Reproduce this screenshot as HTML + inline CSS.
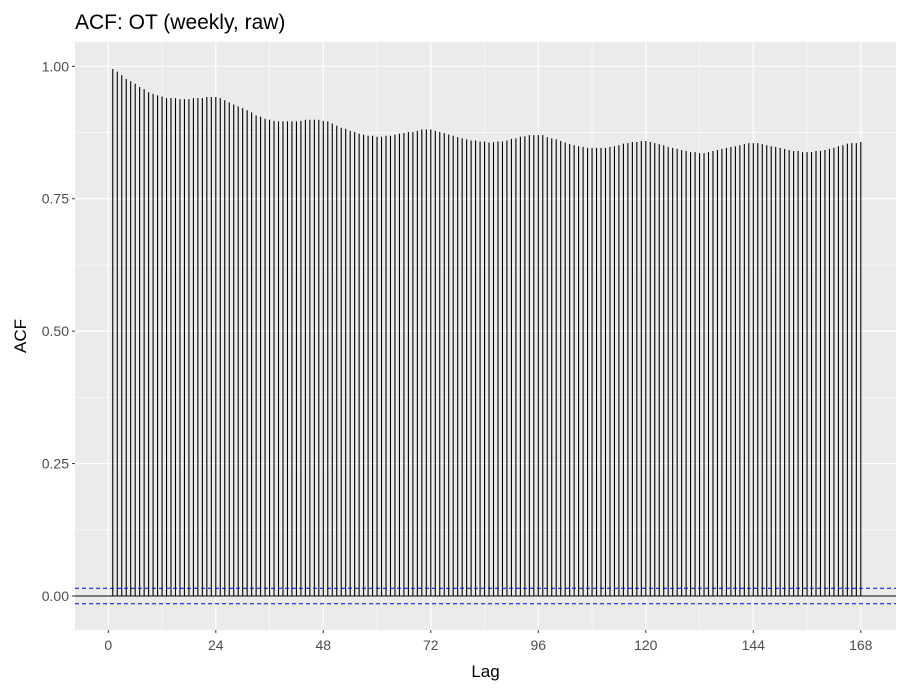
<!DOCTYPE html>
<html><head><meta charset="utf-8"><style>
body{margin:0;background:#fff;font-family:"Liberation Sans",Arial,sans-serif}
</style></head><body>
<svg id="chart" width="908" height="691" xmlns="http://www.w3.org/2000/svg"></svg>
<script>
const lags = Array.from({length:168},(_,i)=>i+1);
const acfValues = [0.995,0.990,0.983,0.976,0.972,0.967,0.961,0.957,0.951,0.948,0.945,0.943,0.940,0.940,0.940,0.938,0.938,0.938,0.940,0.940,0.940,0.942,0.942,0.942,0.940,0.936,0.932,0.928,0.924,0.921,0.917,0.913,0.907,0.905,0.901,0.899,0.897,0.896,0.896,0.896,0.896,0.896,0.897,0.899,0.899,0.899,0.899,0.897,0.896,0.892,0.888,0.884,0.882,0.878,0.876,0.873,0.871,0.869,0.869,0.867,0.867,0.869,0.869,0.871,0.873,0.874,0.876,0.876,0.878,0.881,0.881,0.881,0.878,0.876,0.874,0.871,0.869,0.866,0.864,0.862,0.860,0.860,0.858,0.858,0.856,0.857,0.858,0.858,0.860,0.863,0.864,0.867,0.868,0.870,0.870,0.870,0.870,0.866,0.864,0.862,0.859,0.856,0.853,0.851,0.849,0.848,0.846,0.846,0.846,0.846,0.846,0.848,0.849,0.851,0.854,0.855,0.857,0.857,0.859,0.859,0.857,0.855,0.853,0.851,0.848,0.846,0.844,0.842,0.840,0.838,0.838,0.836,0.836,0.838,0.840,0.842,0.844,0.846,0.848,0.849,0.851,0.853,0.855,0.855,0.855,0.853,0.851,0.849,0.848,0.846,0.844,0.842,0.840,0.840,0.838,0.838,0.838,0.840,0.840,0.842,0.844,0.846,0.849,0.851,0.854,0.855,0.855,0.857];
const ciBound = 0.0147;
const xTicks = [0,24,48,72,96,120,144,168];
const xMinor = [12,36,60,84,108,132,156];
const yTicks = [0,0.25,0.5,0.75,1.0];
const yTickLabels = ["0.00","0.25","0.50","0.75","1.00"];
const yMinor = [0.125,0.375,0.625,0.875];

const P={l:75,r:896,t:42,b:630};
const X=v=>108.3+v*(752.5/168);
const Y=v=>596-v*529.7;
const svg=document.getElementById('chart');
const NS='http://www.w3.org/2000/svg';
function el(tag,attrs,parent){const e=document.createElementNS(NS,tag);for(const k in attrs)e.setAttribute(k,attrs[k]);(parent||svg).appendChild(e);return e;}

const bg=el('rect',{x:P.l,y:P.t,width:P.r-P.l,height:P.b-P.t,fill:'#ebebeb'});


const grid=el('g',{});


yMinor.forEach(v=>el('line',{x1:P.l,x2:P.r,y1:Y(v),y2:Y(v),stroke:'#fff','stroke-width':0.6},grid));
xMinor.forEach(v=>el('line',{x1:X(v),x2:X(v),y1:P.t,y2:P.b,stroke:'#fff','stroke-width':0.6},grid));
yTicks.forEach(v=>el('line',{x1:P.l,x2:P.r,y1:Y(v),y2:Y(v),stroke:'#fff','stroke-width':1.2},grid));
xTicks.forEach(v=>el('line',{x1:X(v),x2:X(v),y1:P.t,y2:P.b,stroke:'#fff','stroke-width':1.2},grid));

const bars=el('g',{});


lags.forEach((lag,i)=>{
  const b=el('line',{x1:X(lag),x2:X(lag),y1:Y(0),y2:Y(acfValues[i]),stroke:'#000','stroke-width':1.1},bars);
  
  
});
const zl=el('line',{x1:P.l,x2:P.r,y1:Y(0),y2:Y(0),stroke:'#000','stroke-width':1});


[ciBound,-ciBound].forEach(v=>{
  const c=el('line',{x1:P.l,x2:P.r,y1:Y(v),y2:Y(v),stroke:'#0000ff','stroke-width':1,'stroke-dasharray':'4,3'});
  
  
});

yTicks.forEach((v,i)=>{
  el('line',{x1:P.l-3,x2:P.l,y1:Y(v),y2:Y(v),stroke:'#333','stroke-width':1});
  const t=el('text',{x:P.l-6,y:Y(v)+5,'text-anchor':'end','font-size':14,fill:'#4d4d4d'});
  t.textContent=yTickLabels[i];
  
  
});
xTicks.forEach(v=>{
  el('line',{x1:X(v),x2:X(v),y1:P.b,y2:P.b+3,stroke:'#333','stroke-width':1});
  const t=el('text',{x:X(v),y:P.b+20,'text-anchor':'middle','font-size':14,fill:'#4d4d4d'});
  t.textContent=v;
  
  
});
const title=el('text',{x:75,y:29,'font-size':21,fill:'#000'});
title.textContent='ACF: OT (weekly, raw)';


const xt=el('text',{x:(P.l+P.r)/2,y:677,'text-anchor':'middle','font-size':17,fill:'#000'});
xt.textContent='Lag';


const yt=el('text',{x:0,y:0,'text-anchor':'middle','font-size':17,fill:'#000',transform:'translate(26,'+((P.t+P.b)/2)+') rotate(-90)'});
yt.textContent='ACF';


</script>
</body></html>
